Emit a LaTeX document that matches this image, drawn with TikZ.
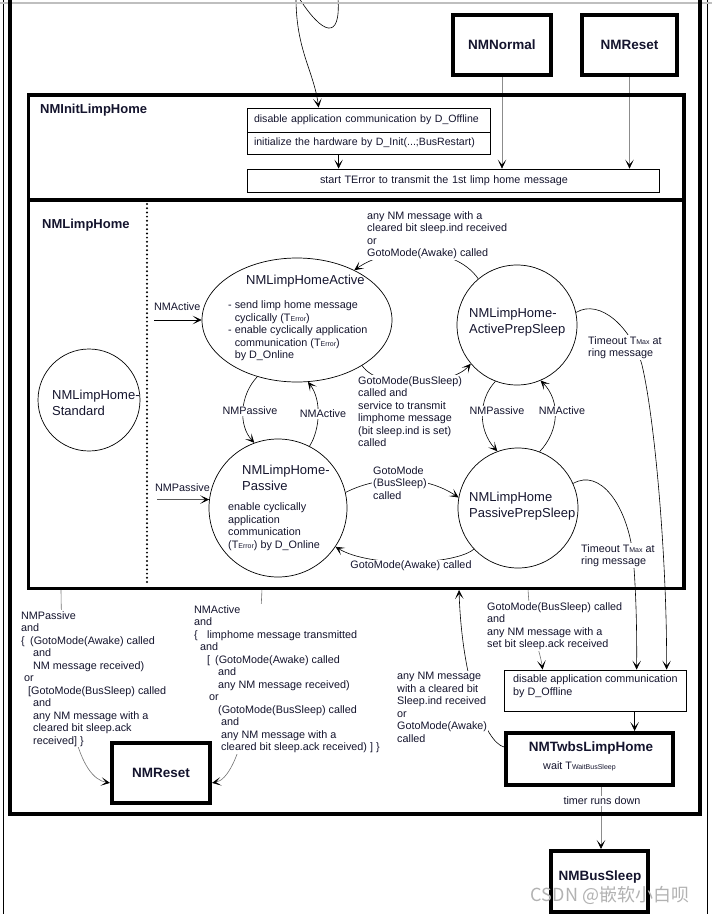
\documentclass[tikz,border=0pt]{standalone}
\usepackage{fontspec}
\setmainfont{Liberation Sans}
\newfontfamily\cjkfont{Noto Sans CJK SC}
\usetikzlibrary{arrows.meta,shapes.geometric,calc}
\definecolor{textc}{RGB}{20,20,45}
\newcommand\smalltxt[1]{{\fontsize{7}{8}\selectfont #1}}
\pgfdeclarelayer{bg}
\pgfdeclarelayer{mid}
\pgfsetlayers{bg,mid,main}
\tikzset{
  txt/.style={inner sep=0pt, text=textc, font=\fontsize{10.8}{12.5}\selectfont, align=left},
  lbl/.style={txt, fill=white, inner sep=1pt},
  sname/.style={inner sep=0pt, text=textc, font=\fontsize{13}{16}\selectfont, align=left},
  bname/.style={inner sep=0pt, text=textc, font=\bfseries\fontsize{13.5}{16}\selectfont},
  bigbox/.style={draw, line width=4pt, bname},
  thinbox/.style={draw, line width=0.8pt, txt},
  stnode/.style={draw, line width=0.7pt, inner sep=0pt},
  conn/.style={line width=0.6pt, -{Stealth[length=9pt,width=8.5pt,inset=5pt,color=black]}},
  gconn/.style={conn, draw=black!45},
  frame/.style={line width=3.5pt},
}
\begin{document}
\begin{tikzpicture}[x=1pt,y=-1pt]
\useasboundingbox (0,0) rectangle (712,914);
% frames
\draw[line width=0.7pt] (3,-5) -- (3,920);
\draw[line width=0.7pt] (707,-5) -- (707,920);
\draw[black!25, line width=1.2pt] (-5,3) -- (717,3);
\draw[line width=4pt] (10,-20) rectangle (700,814);
\draw[frame] (28.5,95) rectangle (684,200);
\draw[frame] (28.5,200) rectangle (684,588.5);
\draw[line width=2.2pt, line cap=round, dash pattern=on 0pt off 4.2pt] (147,204) -- (147,585);
\node[bname, font=\bfseries\fontsize{13}{16}\selectfont, anchor=north west] (tInit) at (40,104) {NMInitLimpHome};
\node[bname, font=\bfseries\fontsize{13}{16}\selectfont, anchor=north west] (tLimp) at (42,219) {NMLimpHome};

% top boxes
\node[bigbox, minimum width=98pt, minimum height=60pt] (nmn) at (502,45) {NMNormal};
\node[bigbox, minimum width=95pt, minimum height=60pt] (rst1) at (629.5,45) {NMReset};
\node[thinbox, text width=235pt, inner xsep=4pt, inner ysep=0pt, minimum height=24pt, font=\fontsize{10.6}{12.5}\selectfont] (b1) at (368.5,120) {\hspace*{3pt}disable application communication by D\_Offline};
\node[thinbox, text width=235pt, inner xsep=4pt, inner ysep=0pt, minimum height=22pt, font=\fontsize{10.6}{12.5}\selectfont] (b2) at (368.5,143) {\hspace*{3pt}initialize the hardware by D\_Init(...;BusRestart)};
\node[thinbox, text width=266pt, inner xsep=73pt, inner ysep=0pt, minimum height=23pt] (start) at (453,180.5) {start TError to transmit the 1st limp home message};

% states
\node[stnode, circle, minimum size=102pt] (std) at (89,400) {};
\node[sname, anchor=north west] (stdT) at (52,390) {NMLimpHome-\\Standard};
\node[stnode, ellipse, minimum width=190pt, minimum height=124pt] (act) at (297,320) {};
\node[sname, anchor=north west] (actT) at (246,275) {NMLimpHomeActive};
\node[txt, anchor=north west] (actB) at (228,300.5) {- send limp home message\\\phantom{- }cyclically (T\smalltxt{Error})\\- enable cyclically application\\\phantom{- }communication (T\smalltxt{Error})\\\phantom{- }by D\_Online};
\node[stnode, circle, minimum size=120pt] (aps) at (517,325) {};
\node[sname, anchor=north west] (apsT) at (469,308) {NMLimpHome-\\ActivePrepSleep};
\node[stnode, circle, minimum size=138pt] (pas) at (278,508) {};
\node[sname, anchor=north west] (pasT) at (242,465) {NMLimpHome-\\Passive};
\node[txt, anchor=north west] (pasB) at (228,502.5) {enable cyclically\\application\\communication\\(T\smalltxt{Error}) by D\_Online};
\node[stnode, circle, minimum size=120pt] (pps) at (518,508) {};
\node[sname, anchor=north west] (ppsT) at (469,492) {NMLimpHome\\PassivePrepSleep};

% bottom boxes
\node[bigbox, minimum width=98pt, minimum height=60pt] (rst2) at (161,773) {NMReset};
\node[draw, line width=0.8pt, minimum width=182pt, minimum height=41pt, inner sep=0pt] (dis) at (595,690.5) {};
\node[txt, anchor=north west] (disT) at (513,674.5) {disable application communication\\by D\_Offline};
\node[draw, line width=4pt, minimum width=167pt, minimum height=52pt, inner sep=0pt] (tw) at (589.5,759) {};
\node[bname] (twT) at (591,748) {NMTwbsLimpHome};
\node[txt, anchor=north west] (twB) at (543,761.5) {wait T\smalltxt{WaitBusSleep}};
\node[draw, line width=4pt, minimum width=97pt, minimum height=61pt, inner sep=0pt] (bs) at (599.5,881.5) {};
\node[bname] (bsT) at (600,877) {NMBusSleep};

% free ends
\coordinate (topA) at (296,-2);
\coordinate (topB1) at (299,-2);
\coordinate (topB2) at (338,-2);
\coordinate (inA) at (154,320);
\coordinate (inP) at (157,499.6);
\coordinate (cA) at (61,588.5);
\coordinate (cB) at (262,588.5);
\coordinate (cC) at (528,588.5);
\coordinate (cD) at (459,590);
\coordinate (b1in) at ($(b1.north west)+(72,0)$);
\coordinate (b2o) at ($(b2.south west)+(92,0)$);
\coordinate (disA) at ($(dis.north west)+(163,0)$);
\coordinate (disP) at ($(dis.north west)+(133,0)$);
\coordinate (disG) at ($(dis.north west)+(39,0)$);
\coordinate (d1) at ($(dis.south west)+(131,0)$);
\coordinate (t1) at ($(tw.south west)+(97,0)$);

\begin{pgfonlayer}{bg}
\draw[conn] (topA) .. controls (296,50) and (314,72) .. (b1in);
\draw[line width=0.6pt] (topB1) .. controls (322,34) and (341,42) .. (topB2);
\draw[gconn] (nmn.south) -- (nmn.south |- start.north);
\draw[gconn] (rst1.south) -- (rst1.south |- start.north);
\draw[conn] (b2o) -- (b2o |- start.north);
\draw[conn] (inA) -- (act.west);
\draw[conn] (inP) -- (pas.173);
\draw[conn] (act.235) .. controls (240,395) and (238,425) .. (pas.110);
\draw[conn] (pas.63) .. controls (320,430) and (322,400) .. (act.280);
\draw[conn] (act.325) .. controls (380,392) and (452,385) .. (aps.220);
\draw[conn] (aps.130) .. controls (455,245) and (390,245) .. (act.41);
\draw[conn] (aps.249) .. controls (478,400) and (478,430) .. (pps.110);
\draw[conn] (pps.69) .. controls (560,430) and (560,400) .. (aps.293);
\draw[conn] (pas.13) .. controls (380,475) and (425,475) .. (pps.170);
\draw[conn] (pps.223) .. controls (455,565) and (370,568) .. (pas.326);
\draw[conn] (aps.12) .. controls (600,298) and (632,328) .. (642,365) .. controls (655,420) and (667,560) .. (disA);
\draw[conn] (pps.24) .. controls (600,468) and (627,505) .. (633,555) .. controls (636,590) and (637,630) .. (disP);
\draw[conn, draw=black!55] (cA) .. controls (62,720) and (80,778) .. (rst2.191);
\draw[conn, draw=black!55] (cB) .. controls (258,690) and (240,778) .. (rst2.349);
\draw[conn, draw=black!55] (cC) .. controls (530,630) and (540,650) .. (disG);
\draw[conn] (tw.172) .. controls (485,742) and (462,680) .. (cD);
\draw[conn] (d1) -- (d1 |- tw.north);
\draw[gconn] (t1) -- (t1 |- bs.north);
\end{pgfonlayer}

\begin{pgfonlayer}{mid}
\node[txt, anchor=north west] (lInA) at (154,302.5) {NMActive};
\node[txt, anchor=north west] (lInP) at (155,483.5) {NMPassive};
\node[lbl] (lNP1) at (250,411) {NMPassive};
\node[lbl] (lNA1) at (323,414) {NMActive};
\node[lbl, anchor=north west] (lGB1) at (357,375) {GotoMode(BusSleep)\\called and\\service to transmit\\limphome message\\(bit sleep.ind is set)\\called};
\node[lbl, anchor=north west] (lAny1) at (366,210) {any NM message with a\\cleared bit sleep.ind received\\or\\GotoMode(Awake) called};
\node[lbl] (lNP2) at (497,411) {NMPassive};
\node[lbl] (lNA2) at (562,411) {NMActive};
\node[lbl, anchor=north west] (lGB2) at (372,465) {GotoMode\\(BusSleep)\\called};
\node[lbl] (lGA) at (411,566) {GotoMode(Awake) called};
\node[lbl, anchor=north west] (lTO1) at (587,335) {Timeout T\smalltxt{Max} at\\ring message};
\node[lbl, anchor=north west] (lTO2) at (580,543) {Timeout T\smalltxt{Max} at\\ring message};
\node[lbl, anchor=north west] (lA) at (20,610) {NMPassive\\and\\\{\hspace{5.4pt}(GotoMode(Awake) called\\\hspace*{12pt}and\\\hspace*{12pt}NM message received)\\\hspace*{3pt}or\\\hspace*{7pt}[GotoMode(BusSleep) called\\\hspace*{12pt}and\\\hspace*{12pt}any NM message with a\\\hspace*{12pt}cleared bit sleep.ack\\\hspace*{12pt}received] \}};
\node[lbl, anchor=north west] (lB) at (193,604) {NMActive\\and\\\{\hspace{9.4pt}limphome message transmitted\\\hspace*{6pt}and\\\hspace*{13pt}[\hspace{5pt}(GotoMode(Awake) called\\\hspace*{24pt}and\\\hspace*{24pt}any NM message received)\\\hspace*{15pt}or\\\hspace*{24pt}(GotoMode(BusSleep) called\\\hspace*{27pt}and\\\hspace*{27pt}any NM message with a\\\hspace*{27pt}cleared bit sleep.ack received) ] \}};
\node[lbl, anchor=north west] (lGB3) at (486,601) {GotoMode(BusSleep) called\\and\\any NM message with a\\set bit sleep.ack received};
\node[lbl, anchor=north west] (lAny2) at (396,671) {any NM message\\with a cleared bit\\Sleep.ind received\\or\\GotoMode(Awake)\\called};
\node[lbl] (lTimer) at (602,801) {timer runs down};
\end{pgfonlayer}

\node[text=black!30, font=\cjkfont\fontsize{18}{21}\selectfont, inner sep=0pt] (wm) at (610,895) {CSDN @嵌软小白呗};
\end{tikzpicture}
\end{document}
